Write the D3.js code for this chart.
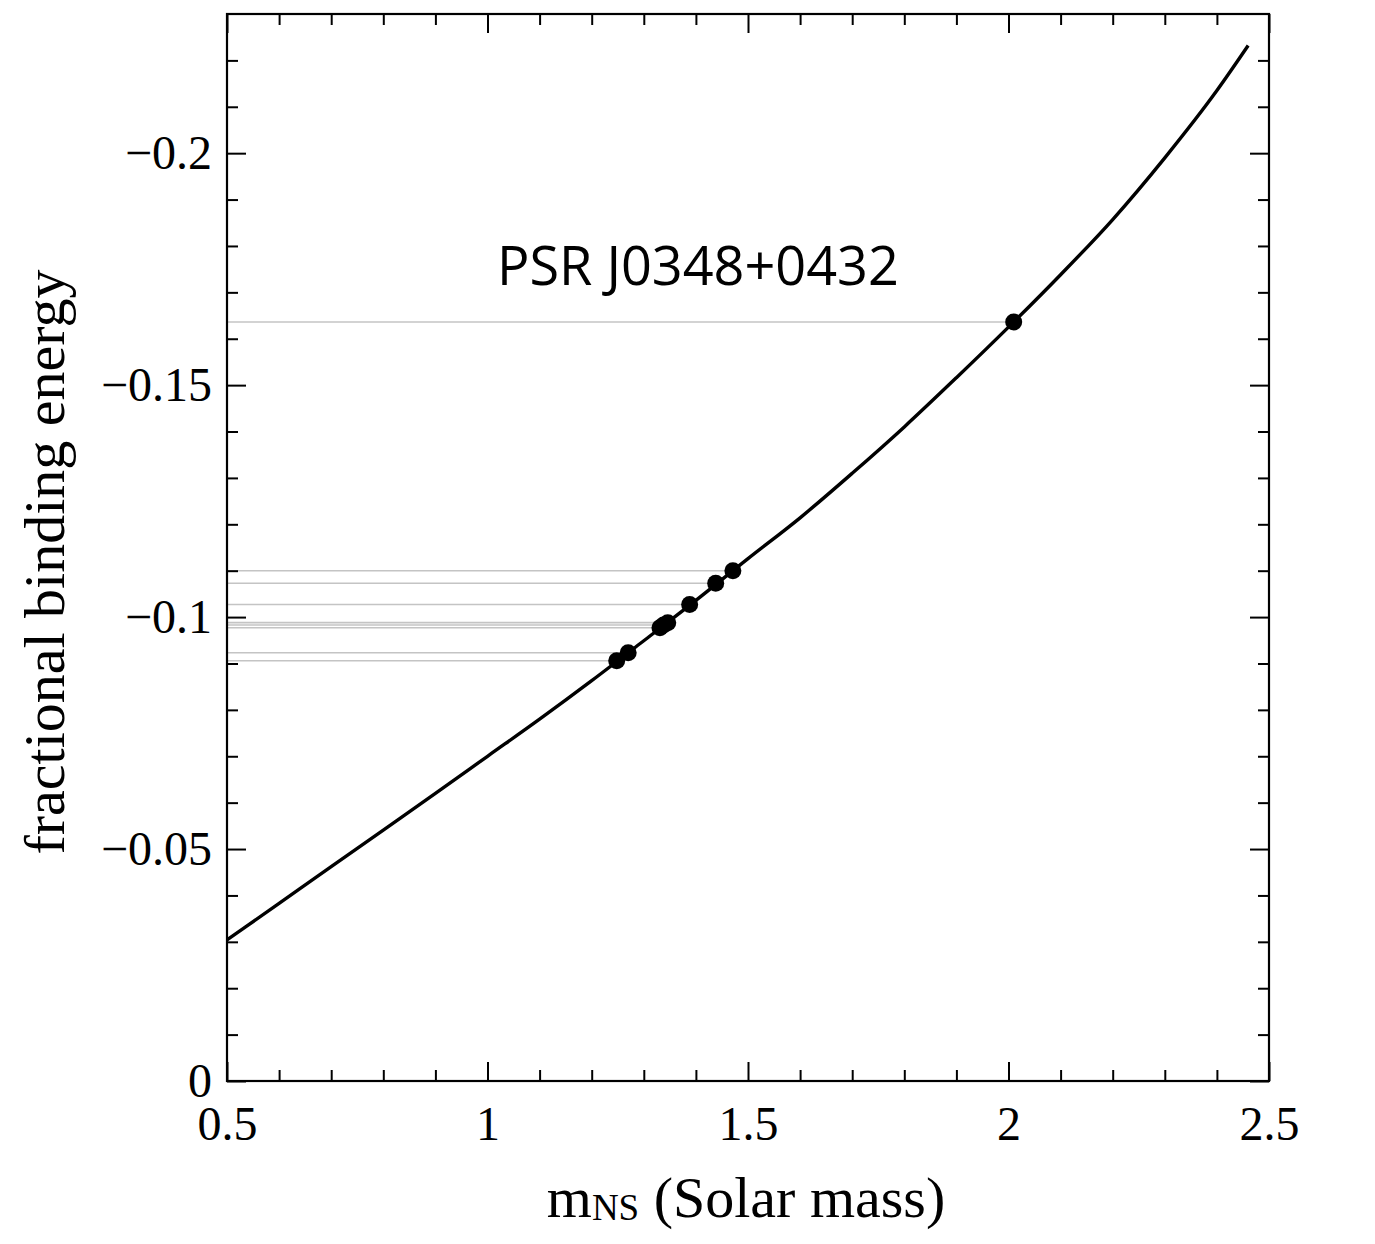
<!DOCTYPE html>
<html>
<head>
<meta charset="utf-8">
<script src="https://cdn.jsdelivr.net/npm/d3@7"></script>
<style>
  body { margin: 0; background: #fff; }
  svg { display: block; }
</style>
</head>
<body>
<div id="chart"></div>
<script>
const w = 1375
const h = 1244
const padLeft = 227, padRight = 1269, padTop = 14, padBottom = 1081

// curve: neutron star mass vs fractional binding energy
const massCurve = [0.5, 0.6, 0.7, 0.8, 0.9, 1.0, 1.1, 1.2, 1.3, 1.4, 1.5, 1.6, 1.7, 1.8, 1.9, 2.0, 2.1, 2.2, 2.3, 2.4, 2.46]
const energyCurve = [-0.0304, -0.0383, -0.0462, -0.0541, -0.0620, -0.0700, -0.0780, -0.0863, -0.0949, -0.1036, -0.1126, -0.1214, -0.1310, -0.1410, -0.1516, -0.1625, -0.1738, -0.1857, -0.1990, -0.2135, -0.2232]

// measured pulsars
const pulsarMass = [1.248, 1.270, 1.331, 1.338, 1.346, 1.388, 1.438, 1.471, 2.010]
const pulsarEnergy = [-0.0906, -0.0923, -0.0977, -0.0983, -0.0988, -0.1027, -0.1073, -0.1100, -0.1636]

const xTicks = [0.5, 1, 1.5, 2, 2.5]
const xTickLabels = ["0.5", "1", "1.5", "2", "2.5"]
const yTicks = [0, -0.05, -0.1, -0.15, -0.2]
const yTickLabels = ["0", "\u22120.05", "\u22120.1", "\u22120.15", "\u22120.2"]
const xMinor = [0.6, 0.7, 0.8, 0.9, 1.1, 1.2, 1.3, 1.4, 1.6, 1.7, 1.8, 1.9, 2.1, 2.2, 2.3, 2.4]
const yMinor = [-0.01, -0.02, -0.03, -0.04, -0.06, -0.07, -0.08, -0.09, -0.11, -0.12, -0.13, -0.14, -0.16, -0.17, -0.18, -0.19, -0.21, -0.22]

const svg = d3.select("#chart")
	.append("svg")
	.attr("width", w)
	.attr("height", h)

let xScale = d3.scaleLinear()
	.domain([0.5, 2.5])
	.range([padLeft, padRight])

let yScale = d3.scaleLinear()
	.domain([0, -0.23])
	.range([padBottom, padTop])

// gray guide lines from the y axis to each pulsar
svg.selectAll("line.guide")
	.data(pulsarMass)
	.enter()
	.append("line")
	.attr("class", "guide")
	.attr("x1", xScale(0.5))
	.attr("x2", d => xScale(d))
	.attr("y1", (d, i) => yScale(pulsarEnergy[i]))
	.attr("y2", (d, i) => yScale(pulsarEnergy[i]))
	.attr("stroke", "#c4c4c4")
	.attr("stroke-width", 1.6)

let line = d3.line()
	.x((d, i) => xScale(massCurve[i]))
	.y(d => yScale(d))
	.curve(d3.curveMonotoneX)

svg.append("path")
	.datum(energyCurve)
	.attr("d", line)
	.attr("fill", "none")
	.attr("stroke", "black")
	.attr("stroke-width", 3.4)

svg.selectAll("circle")
	.data(pulsarMass)
	.enter()
	.append("circle")
	.attr("cx", d => xScale(d))
	.attr("cy", (d, i) => yScale(pulsarEnergy[i]))
	.attr("r", 8.5)
	.attr("fill", "black")

// axes: ticks pointing inward on all sides
let styleAxis = function(g) {
	g.select(".domain").remove()
	g.selectAll("line").attr("stroke", "black").attr("stroke-width", 2)
	g.selectAll("text")
		.attr("font-family", "'Liberation Serif', 'Times New Roman', serif")
		.attr("font-size", 48)
		.attr("fill", "black")
}

svg.append("g")
	.attr("transform", "translate(0," + padBottom + ")")
	.call(d3.axisBottom(xScale).tickValues(xTicks).tickSize(-19).tickPadding(25)
		.tickFormat((d, i) => xTickLabels[i]))
	.call(styleAxis)
svg.append("g")
	.attr("transform", "translate(0," + padBottom + ")")
	.call(d3.axisBottom(xScale).tickValues(xMinor).tickSize(-11).tickFormat(""))
	.call(styleAxis)
svg.append("g")
	.attr("transform", "translate(0," + padTop + ")")
	.call(d3.axisTop(xScale).tickValues(xTicks).tickSize(-19).tickFormat(""))
	.call(styleAxis)
svg.append("g")
	.attr("transform", "translate(0," + padTop + ")")
	.call(d3.axisTop(xScale).tickValues(xMinor).tickSize(-11).tickFormat(""))
	.call(styleAxis)

svg.append("g")
	.attr("transform", "translate(" + padLeft + ",0)")
	.call(d3.axisLeft(yScale).tickValues(yTicks).tickSize(-19).tickPadding(15)
		.tickFormat((d, i) => yTickLabels[i]))
	.call(styleAxis)
svg.append("g")
	.attr("transform", "translate(" + padLeft + ",0)")
	.call(d3.axisLeft(yScale).tickValues(yMinor).tickSize(-11).tickFormat(""))
	.call(styleAxis)
svg.append("g")
	.attr("transform", "translate(" + padRight + ",0)")
	.call(d3.axisRight(yScale).tickValues(yTicks).tickSize(-19).tickFormat(""))
	.call(styleAxis)
svg.append("g")
	.attr("transform", "translate(" + padRight + ",0)")
	.call(d3.axisRight(yScale).tickValues(yMinor).tickSize(-11).tickFormat(""))
	.call(styleAxis)

// frame
svg.append("rect")
	.attr("x", padLeft)
	.attr("y", padTop)
	.attr("width", padRight - padLeft)
	.attr("height", padBottom - padTop)
	.attr("fill", "none")
	.attr("stroke", "black")
	.attr("stroke-width", 2.2)

// labels
let xLabel = svg.append("text")
	.attr("x", 746)
	.attr("y", 1217)
	.attr("text-anchor", "middle")
	.attr("font-family", "'Liberation Serif', 'Times New Roman', serif")
	.attr("font-size", 58)
xLabel.append("tspan").text("m")
xLabel.append("tspan").attr("font-size", 37).attr("dy", 3).text("NS")
xLabel.append("tspan").attr("dy", -3).text(" (Solar mass)")

svg.append("text")
	.attr("transform", "translate(64," + 562 + ") rotate(-90)")
	.attr("text-anchor", "middle")
	.attr("font-family", "'Liberation Serif', 'Times New Roman', serif")
	.attr("font-size", 58)
	.text("fractional binding energy")

svg.append("text")
	.attr("x", 497)
	.attr("y", 285)
	.attr("font-family", "'Open Sans', sans-serif")
	.attr("font-size", 54)
	.text("PSR J0348+0432")
</script>
</body>
</html>
